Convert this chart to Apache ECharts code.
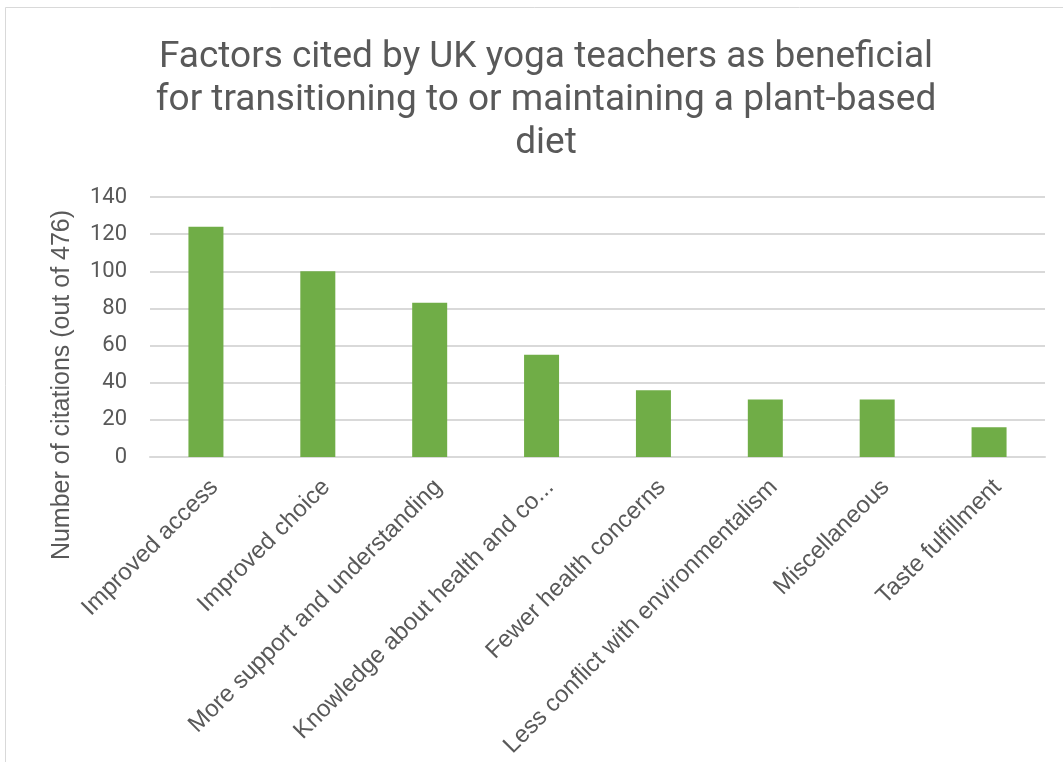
<!DOCTYPE html>
<html>
<head>
<meta charset="utf-8">
<script src="https://cdn.jsdelivr.net/npm/echarts@6/dist/echarts.min.js"></script>
<style>
  html, body { margin: 0; padding: 0; background: #fff; }
  #chart { width: 1063px; height: 762px; }
</style>
</head>
<body>
<div id="chart"></div>
<script>
// Factors cited as beneficial for a plant-based diet (counts out of 476).
const factors = [
  'Improved access',
  'Improved choice',
  'More support and understanding',
  'Knowledge about health and co...',
  'Fewer health concerns',
  'Less conflict with environmentalism',
  'Miscellaneous',
  'Taste fulfillment'
];
const citations = [124, 100, 83, 55, 36, 31, 31, 16];
const titleLines = [
  'Factors cited by UK yoga teachers as beneficial',
  'for transitioning to or maintaining a plant-based',
  'diet'
];
const yName = 'Number of citations (out of 476)';

const chart = echarts.init(document.getElementById('chart'));
chart.setOption({
  animation: false,
  backgroundColor: '#fff',
  title: {
    text: titleLines.join('\n'),
    left: 541,
    top: 31,
    textAlign: 'center',
    textStyle: {
      fontFamily: 'Roboto',
      fontSize: 37,
      fontWeight: 'normal',
      lineHeight: 43,
      color: '#595959'
    }
  },
  graphic: [
    {
      type: 'rect',
      silent: true,
      shape: { x: 5.5, y: 7.5, width: 1100, height: 800 },
      style: { fill: 'none', stroke: '#d9d9d9', lineWidth: 1 }
    },
    {
      type: 'text',
      x: 62,
      y: 385,
      rotation: Math.PI / 2,
      style: {
        text: yName,
        fontFamily: 'Liberation Sans',
        fontSize: 25,
        fill: '#595959',
        align: 'center',
        verticalAlign: 'middle'
      }
    }
  ],
  grid: { left: 150, right: 18, top: 197, bottom: 305 },
  xAxis: {
    type: 'category',
    data: factors,
    axisLine: { lineStyle: { color: '#d9d9d9', width: 2 } },
    axisTick: { show: false },
    axisLabel: {
      interval: 0,
      rotate: 45,
      margin: 18,
      verticalAlign: 'top',
      fontFamily: 'Liberation Sans',
      fontSize: 24,
      color: '#595959'
    }
  },
  yAxis: {
    type: 'value',
    min: 0,
    max: 140,
    interval: 20,
    axisLine: { show: false },
    axisTick: { show: false },
    splitLine: { lineStyle: { color: '#d9d9d9', width: 2 } },
    axisLabel: {
      margin: 23,
      fontFamily: 'Roboto',
      fontSize: 22,
      color: '#595959'
    }
  },
  series: [{
    type: 'bar',
    data: citations,
    barWidth: 35,
    itemStyle: { color: '#70ad47' }
  }]
});
</script>
</body>
</html>
